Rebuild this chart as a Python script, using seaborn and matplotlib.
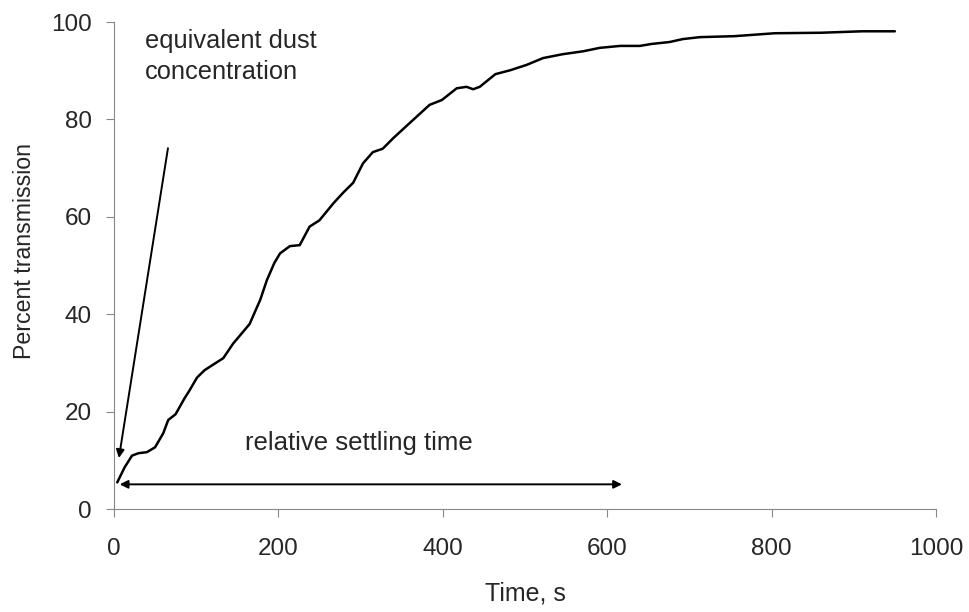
import numpy as np
import pandas as pd
import matplotlib
matplotlib.use("Agg")
import matplotlib.pyplot as plt
import seaborn as sns

# Settling curve
time_s = [4, 13, 22, 30, 40, 50, 60, 66, 75, 86, 92, 101, 110, 120, 133, 145,
          155, 165, 178, 186, 195, 202, 214, 226, 238, 250, 267, 279, 291, 303,
          315, 327, 340, 360, 384, 399, 417, 429, 437, 445, 464, 482, 502, 522,
          546, 571, 591, 616, 640, 654, 676, 692, 713, 755, 804, 860, 910, 950]
transmission = [5.5, 8.6, 11, 11.5, 11.7, 12.7, 15.6, 18.3, 19.5, 22.8, 24.4,
                27, 28.5, 29.6, 31, 34, 36, 38, 43, 47, 50.5, 52.5, 54, 54.2,
                58, 59.3, 62.8, 65, 67, 71, 73.3, 74, 76.2, 79.3, 83, 84, 86.4,
                86.7, 86.2, 86.7, 89.3, 90.1, 91.2, 92.6, 93.4, 94.0, 94.7,
                95.1, 95.1, 95.5, 95.9, 96.5, 96.9, 97.1, 97.7, 97.8, 98.1, 98.1]

x_ticks = [0, 200, 400, 600, 800, 1000]
y_ticks = [0, 20, 40, 60, 80, 100]

# annotation anchors (data units)
conc_arrow_start = (65.7, 74.1)
conc_arrow_end = (6, 10.5)
settle_start = 7
settle_end = 618
settle_level = 5.1

sns.set_style("ticks")
plt.rcParams["font.family"] = ["Liberation Sans", "DejaVu Sans"]

df = pd.DataFrame({"time": time_s, "trans": transmission})

fig = plt.figure(figsize=(9.69, 6.12), dpi=100)
ax = fig.add_axes([0.1176, 0.168, 0.8483, 0.796])

sns.lineplot(data=df, x="time", y="trans", ax=ax, color="black", linewidth=1.8)

ax.set_xlim(0, 1000)
ax.set_ylim(0, 100)
ax.set_xticks(x_ticks)
ax.set_yticks(y_ticks)
ax.set_xlabel("Time, s", fontsize=18, labelpad=15)
ax.set_ylabel("Percent transmission", fontsize=16.7)
ax.yaxis.set_label_coords(-0.095, 0.53)
ax.tick_params(labelsize=17.5, direction="out", length=6, width=0.8,
               color="#888888")
ax.tick_params(axis="x", pad=15)
ax.tick_params(axis="y", pad=10)
sns.despine(ax=ax)
for side in ["left", "bottom"]:
    ax.spines[side].set_color("#888888")
    ax.spines[side].set_linewidth(0.8)

ax.text(37.7, 98.6, "equivalent dust\nconcentration", fontsize=18.3,
        ha="left", va="top", linespacing=1.38)
ax.annotate("", xy=conc_arrow_end, xytext=conc_arrow_start,
            arrowprops=dict(arrowstyle="-|>", color="black", lw=1.4,
                            mutation_scale=12, shrinkA=0, shrinkB=0))

ax.text(159, 13.6, "relative settling time", fontsize=18.5, ha="left", va="center")
ax.annotate("", xy=(settle_start, settle_level), xytext=(settle_end, settle_level),
            arrowprops=dict(arrowstyle="<|-|>", color="black", lw=1.4,
                            mutation_scale=12, shrinkA=0, shrinkB=0))

fig.savefig("out.png", dpi=100)
